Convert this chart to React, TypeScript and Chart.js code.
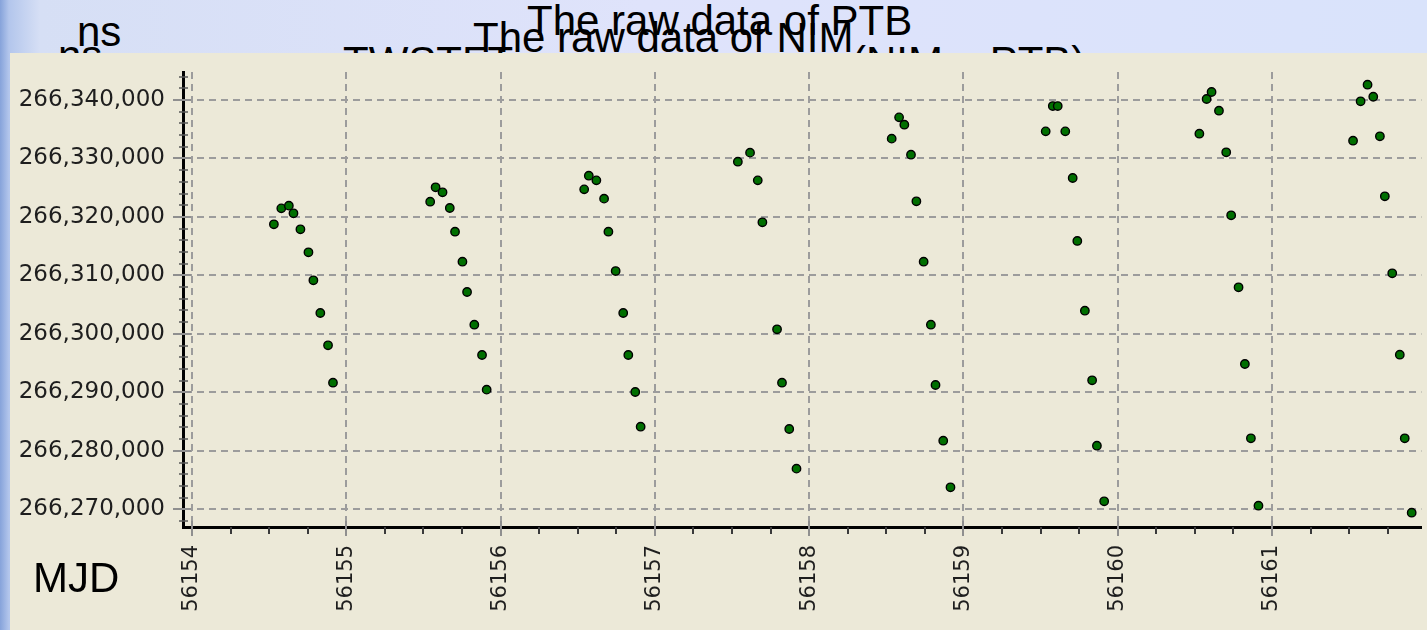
import React, { useEffect, useRef } from 'react';
import { Chart, registerables } from 'chart.js';

Chart.register(...registerables);

// ---- data (MJD, ns), one pair of arrays per day ----
const DAY54_MJD = [56154.531, 56154.579, 56154.628, 56154.658, 56154.703, 56154.755, 56154.787, 56154.832, 56154.882, 56154.914];
const DAY54_NS = [266318740, 266321470, 266321930, 266320620, 266317880, 266313950, 266309160, 266303570, 266298040, 266291650];

const DAY55_MJD = [56155.544, 56155.579, 56155.624, 56155.671, 56155.705, 56155.753, 56155.783, 56155.830, 56155.880, 56155.910];
const DAY55_NS = [266322610, 266325070, 266324210, 266321530, 266317480, 266312350, 266307160, 266301570, 266296390, 266290460];

const DAY56_MJD = [56156.542, 56156.572, 56156.621, 56156.671, 56156.699, 56156.746, 56156.795, 56156.828, 56156.873, 56156.908];
const DAY56_NS = [266324720, 266327060, 266326260, 266323130, 266317480, 266310750, 266303570, 266296390, 266290060, 266284130];

const DAY57_MJD = [56157.538, 56157.617, 56157.667, 56157.697, 56157.792, 56157.824, 56157.871, 56157.918];
const DAY57_NS = [266329450, 266331000, 266326260, 266319080, 266300780, 266291650, 266283730, 266276950];

const DAY58_MJD = [56158.535, 56158.583, 56158.617, 56158.660, 56158.695, 56158.742, 56158.789, 56158.819, 56158.869, 56158.916];
const DAY58_NS = [266333390, 266337030, 266335780, 266330650, 266322670, 266312350, 266301570, 266291260, 266281730, 266273760];

const DAY59_MJD = [56159.533, 56159.579, 56159.611, 56159.660, 56159.708, 56159.738, 56159.787, 56159.834, 56159.865, 56159.912];
const DAY59_NS = [266334640, 266338970, 266338970, 266334640, 266326660, 266315890, 266303970, 266292060, 266280880, 266271360];

const DAY60_MJD = [56160.529, 56160.576, 56160.608, 56160.656, 56160.703, 56160.735, 56160.783, 56160.824, 56160.863, 56160.912];
const DAY60_NS = [266334240, 266340170, 266341370, 266338170, 266331060, 266320280, 266307970, 266294850, 266282140, 266270610];

const DAY61_MJD = [56161.525, 56161.574, 56161.619, 56161.656, 56161.699, 56161.731, 56161.779, 56161.828, 56161.860, 56161.905];
const DAY61_NS = [266333040, 266339780, 266342620, 266340560, 266333790, 266323530, 266310360, 266296440, 266282140, 266269420];

const X_TICKS = [56154, 56155, 56156, 56157, 56158, 56159, 56160, 56161];
const Y_TICKS = [266270000, 266280000, 266290000, 266300000, 266310000, 266320000, 266330000, 266340000];

const X_MIN = 56153.942;
const X_MAX = 56161.968;
const Y_MIN = 266266970;
const Y_MAX = 266344790;

const GROUPS: [number[], number[]][] = [
  [DAY54_MJD, DAY54_NS],
  [DAY55_MJD, DAY55_NS],
  [DAY56_MJD, DAY56_NS],
  [DAY57_MJD, DAY57_NS],
  [DAY58_MJD, DAY58_NS],
  [DAY59_MJD, DAY59_NS],
  [DAY60_MJD, DAY60_NS],
  [DAY61_MJD, DAY61_NS],
];

const axisTicksPlugin = {
  id: 'axisTicks',
  afterDraw(chart: any) {
    const { ctx, chartArea, scales } = chart;
    const xs = scales.x;
    const ys = scales.y;
    ctx.save();
    ctx.lineWidth = 2;
    for (let v = 56154; v < X_MAX; v += 0.25) {
      const px = Math.round(xs.getPixelForValue(v));
      if (px < chartArea.left || px > chartArea.right) continue;
      const major = Math.abs(v - Math.round(v)) < 1e-6;
      ctx.beginPath();
      ctx.strokeStyle = major ? '#8f8f8f' : '#3a3a3a';
      ctx.moveTo(px, chartArea.bottom - (major ? 6 : 0));
      ctx.lineTo(px, chartArea.bottom + (major ? 9 : 7));
      ctx.stroke();
    }
    for (let v = 266268000; v < Y_MAX; v += 2000) {
      const py = Math.round(ys.getPixelForValue(v));
      if (py < chartArea.top || py > chartArea.bottom) continue;
      const major = v % 10000 === 0;
      ctx.beginPath();
      ctx.strokeStyle = major ? '#8f8f8f' : '#5a5a5a';
      ctx.lineWidth = major ? 2 : 1.5;
      ctx.moveTo(chartArea.left - (major ? 10 : 4), py);
      ctx.lineTo(chartArea.left + (major ? 8 : 5), py);
      ctx.stroke();
    }
    ctx.restore();
  },
};

function ChartCanvas() {
  const ref = useRef<HTMLCanvasElement | null>(null);
  useEffect(() => {
    if (!ref.current) return;
    const points: { x: number; y: number }[] = [];
    GROUPS.forEach(([xs, ys]) => xs.forEach((x, i) => points.push({ x, y: ys[i] })));
    const chart = new Chart(ref.current, {
      type: 'scatter',
      data: {
        datasets: [
          {
            data: points,
            pointBackgroundColor: '#006f00',
            pointBorderColor: '#000000',
            pointBorderWidth: 1.4,
            pointRadius: 4.2,
            showLine: false,
          },
        ],
      },
      options: {
        responsive: false,
        animation: false,
        devicePixelRatio: 1,
        layout: { padding: { top: 19, right: 0, left: 0, bottom: 0 } },
        plugins: {
          legend: { display: false },
          tooltip: { enabled: false },
          title: { display: false },
        },
        scales: {
          x: {
            type: 'linear',
            min: X_MIN,
            max: X_MAX,
            afterBuildTicks: (s: any) => {
              s.ticks = X_TICKS.map((v) => ({ value: v }));
            },
            afterFit: (s: any) => {
              s.height = 101;
              s.paddingLeft = 0;
              s.paddingRight = 0;
            },
            ticks: {
              minRotation: 90,
              maxRotation: 90,
              padding: 18,
              color: '#1e1e1e',
              font: { family: 'DejaVu Sans', size: 21 },
              callback: (v: any) => String(v),
              autoSkip: false,
            },
            grid: { color: '#9c9c9c', lineWidth: 2, drawTicks: false, tickLength: 0 },
            border: { display: true, color: '#000000', width: 3, dash: [7, 5] },
          },
          y: {
            type: 'linear',
            min: Y_MIN,
            max: Y_MAX,
            afterBuildTicks: (s: any) => {
              s.ticks = Y_TICKS.map((v) => ({ value: v }));
            },
            afterFit: (s: any) => {
              s.width = 173;
              s.paddingTop = 0;
              s.paddingBottom = 0;
            },
            ticks: {
              padding: 18,
              color: '#1e1e1e',
              font: { family: 'DejaVu Sans', size: 23 },
              callback: (v: any) => Number(v).toLocaleString('en-US'),
              autoSkip: false,
            },
            grid: { color: '#9c9c9c', lineWidth: 2, drawTicks: false, tickLength: 0 },
            border: { display: true, color: '#000000', width: 3, dash: [7, 5] },
          },
        },
      },
      plugins: [axisTicksPlugin],
    } as any);
    return () => chart.destroy();
  }, []);
  return <canvas ref={ref} width={1417} height={575} style={{ display: 'block' }} />;
}

const textBase: React.CSSProperties = {
  position: 'absolute',
  fontFamily: '"Liberation Sans", Arial, sans-serif',
  fontSize: 42,
  lineHeight: '42px',
  color: '#000',
  whiteSpace: 'nowrap',
};

export default function App() {
  return (
    <div
      style={{
        position: 'fixed',
        inset: 0,
        overflow: 'hidden',
        background:
          'linear-gradient(90deg, #86a3da 0px, #b3c6ec 9px, #d6dff5 40px, #dfe3fb 45%, #d9e3fb 100%)',
      }}
    >
      <span style={{ ...textBase, left: 77, top: 11 }}>ns</span>
      <span style={{ ...textBase, left: 58, top: 35 }}>ns</span>
      <span style={{ ...textBase, left: 343, top: 41 }}>TWSTFT</span>
      <span style={{ ...textBase, left: 852, top: 41 }}>(NIM – PTB)</span>
      <span style={{ ...textBase, left: 473, top: 17 }}>The raw data of NIM</span>
      <span style={{ ...textBase, left: 527, top: 0 }}>The raw data of PTB</span>
      <div
        style={{
          position: 'absolute',
          left: 10,
          top: 53,
          width: 1417,
          height: 577,
          background: '#ece9d8',
          zIndex: 1,
        }}
      >
        <ChartCanvas />
      </div>
      <span style={{ ...textBase, left: 33, top: 557, zIndex: 2 }}>MJD</span>
    </div>
  );
}
